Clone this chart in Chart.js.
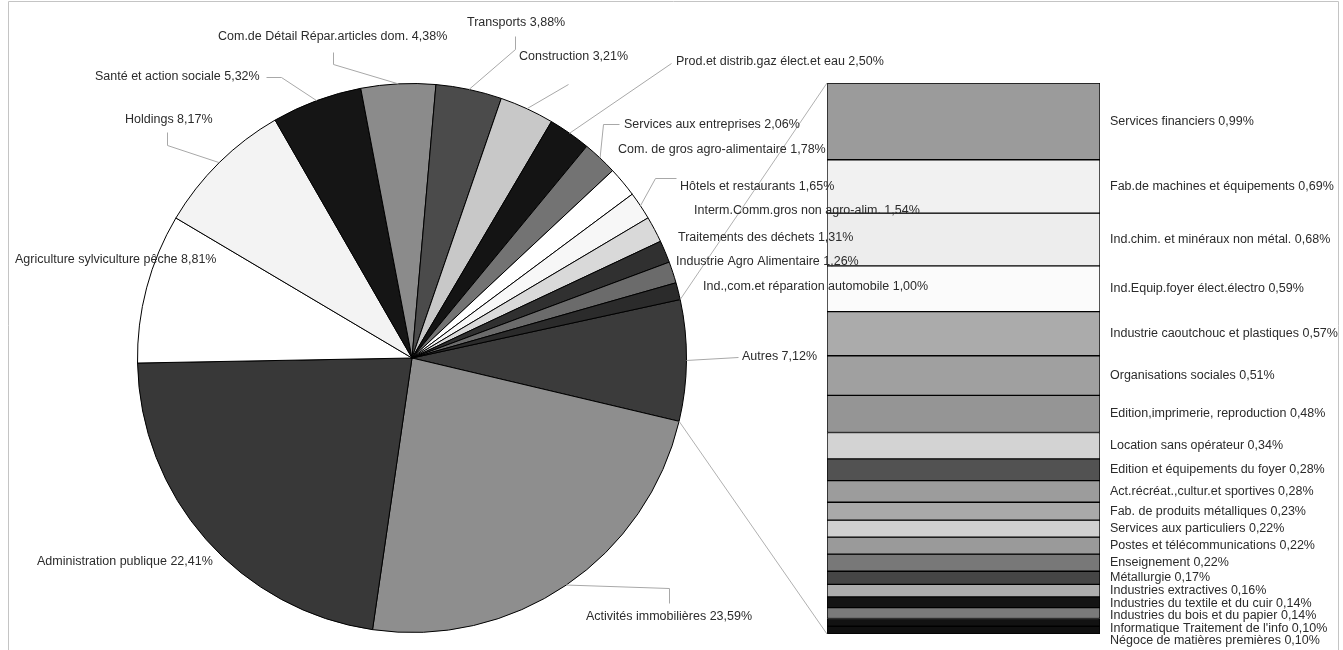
<!DOCTYPE html>
<html>
<head>
<meta charset="utf-8">
<script src="https://cdn.jsdelivr.net/npm/chart.js@4/dist/chart.umd.min.js"></script>
<style>
  html, body { margin: 0; padding: 0; background: #fff; }
  #wrap { position: relative; width: 1343px; height: 650px; overflow: hidden; }
  canvas { position: absolute; left: 0; top: 0; }
</style>
</head>
<body>
<div id="wrap">
  <canvas id="bar" width="1343" height="650"></canvas>
  <canvas id="pie" width="1343" height="650"></canvas>
</div>
<script>
// ---------- DATA ----------
const pieNames = [
  "Autres", "Activités immobilières", "Administration publique",
  "Agriculture sylviculture pêche", "Holdings", "Santé et action sociale",
  "Com.de Détail Répar.articles dom.", "Transports", "Construction",
  "Prod.et distrib.gaz élect.et eau", "Services aux entreprises",
  "Com. de gros agro-alimentaire", "Hôtels et restaurants",
  "Interm.Comm.gros non agro-alim.", "Traitements des déchets",
  "Industrie Agro Alimentaire", "Ind.,com.et réparation automobile"
];
const pieValues = [7.12, 23.59, 22.41, 8.81, 8.17, 5.32, 4.38, 3.88, 3.21, 2.50, 2.06, 1.78, 1.65, 1.54, 1.31, 1.26, 1.00];
const pieColors = ["#3b3b3b", "#8e8e8e", "#383838", "#ffffff", "#f3f3f3", "#151515", "#8b8b8b", "#4b4b4b",
  "#c8c8c8", "#141414", "#737373", "#ffffff", "#f7f7f7", "#d9d9d9", "#303030", "#6b6b6b", "#2b2b2b"];

const barNames = [
  "Services financiers", "Fab.de machines et équipements", "Ind.chim. et minéraux non métal.",
  "Ind.Equip.foyer élect.électro", "Industrie caoutchouc et plastiques", "Organisations sociales",
  "Edition,imprimerie, reproduction", "Location sans opérateur", "Edition et équipements du foyer",
  "Act.récréat.,cultur.et sportives", "Fab. de produits métalliques", "Services aux particuliers",
  "Postes et télécommunications", "Enseignement", "Métallurgie", "Industries extractives",
  "Industries du textile et du cuir", "Industries du bois et du papier",
  "Informatique Traitement de l'info", "Négoce de matières premières"
];
const barValues = [0.99, 0.69, 0.68, 0.59, 0.57, 0.51, 0.48, 0.34, 0.28, 0.28, 0.23, 0.22, 0.22, 0.22, 0.17, 0.16, 0.14, 0.14, 0.10, 0.10];
const barColors = ["#9b9b9b", "#f1f1f1", "#ededed", "#fbfbfb", "#ababab", "#a0a0a0", "#959595", "#d3d3d3",
  "#525252", "#9c9c9c", "#a9a9a9", "#d0d0d0", "#9a9a9a", "#787878", "#454545", "#adadad",
  "#141414", "#7a7a7a", "#121212", "#101010"];

// label layout (text anchor: left x, middle y) and leader elbows, per pie slice
const pieLabelPos = [
  [742, 357], [586, 617], [37, 562], [15, 260], [125, 120], [95, 77], [218, 37], [467, 23],
  [519, 57], [676, 62], [624, 125], [618, 150], [680, 187], [694, 211], [678, 238], [676, 262], [703, 287]
];
const pieLeaders = [
  [[738, 357]], [[669, 588], [669, 603]], null, null, [[167, 145], [167, 132]], [[281, 77], [266, 77]],
  [[333, 64], [333, 52]], [[515, 49], [515, 36]], [[568, 84]], [[671, 63]], [[603, 124], [619, 124]],
  null, [[655, 178], [676, 178]], null, null, null, null
];

const FONT = "12.5px 'Liberation Sans', Arial, sans-serif";
const TXT = "#2b2b2b";
const fmt = v => v.toFixed(2).replace('.', ',') + '%';

// ---------- BAR (stacked "Autres" breakdown) ----------
const barTotal = barValues.reduce((a, b) => a + b, 0);
const barLabelPlugin = {
  id: 'barLabels',
  afterDatasetsDraw(chart) {
    const ctx = chart.ctx;
    ctx.save();
    ctx.font = FONT;
    ctx.fillStyle = TXT;
    ctx.textBaseline = 'middle';
    ctx.textAlign = 'left';
    let prev = -Infinity;
    chart.data.datasets.forEach((ds, i) => {
      const el = chart.getDatasetMeta(i).data[0];
      const mid = (el.y + el.base) / 2;
      const y = Math.max(mid, prev + 12.5);
      prev = y;
      ctx.fillText(barNames[i] + ' ' + fmt(barValues[i]), el.x + el.width / 2 + 10, y);
    });
    ctx.restore();
  }
};
const barChart = new Chart(document.getElementById('bar'), {
  type: 'bar',
  data: {
    labels: [''],
    datasets: barNames.map((n, i) => ({
      label: n, data: [barValues[i]], backgroundColor: barColors[i],
      borderColor: '#000', borderWidth: 1, borderSkipped: false,
      barPercentage: 1, categoryPercentage: 1
    }))
  },
  options: {
    responsive: false, animation: false, devicePixelRatio: 1,
    layout: { padding: { left: 827, right: 243, top: 83, bottom: 16 } },
    scales: {
      x: { display: false, stacked: true },
      y: { display: false, stacked: true, reverse: true, min: 0, max: barTotal }
    },
    plugins: { legend: { display: false }, tooltip: { enabled: false } }
  },
  plugins: [barLabelPlugin]
});

// ---------- PIE ----------
const pieLabelPlugin = {
  id: 'pieLabels',
  beforeDraw(chart) {
    const ctx = chart.ctx;
    ctx.save();
    ctx.strokeStyle = '#c4c4c4';
    ctx.lineWidth = 1;
    ctx.beginPath();
    ctx.moveTo(8.5, 650); ctx.lineTo(8.5, 1.5); ctx.lineTo(1338.5, 1.5); ctx.lineTo(1338.5, 650);
    ctx.stroke();
    ctx.restore();
  },
  afterDatasetsDraw(chart) {
    const ctx = chart.ctx;
    const arcs = chart.getDatasetMeta(0).data;
    ctx.save();
    // leader lines
    ctx.strokeStyle = '#a8a8a8';
    ctx.lineWidth = 1;
    arcs.forEach((a, i) => {
      const pts = pieLeaders[i];
      if (!pts) return;
      const m = (a.startAngle + a.endAngle) / 2;
      ctx.beginPath();
      ctx.moveTo(a.x + Math.cos(m) * a.outerRadius, a.y + Math.sin(m) * a.outerRadius);
      pts.forEach(p => ctx.lineTo(p[0] + 0.5, p[1] + 0.5));
      ctx.stroke();
    });
    // series lines from "Autres" slice to the bar
    const au = arcs[0];
    const bTop = barChart.getDatasetMeta(0).data[0];
    const bBot = barChart.getDatasetMeta(barValues.length - 1).data[0];
    ctx.strokeStyle = '#b0b0b0';
    ctx.beginPath();
    ctx.moveTo(au.x + Math.cos(au.startAngle) * au.outerRadius, au.y + Math.sin(au.startAngle) * au.outerRadius);
    ctx.lineTo(bTop.x - bTop.width / 2, Math.min(bTop.y, bTop.base));
    ctx.moveTo(au.x + Math.cos(au.endAngle) * au.outerRadius, au.y + Math.sin(au.endAngle) * au.outerRadius);
    ctx.lineTo(bBot.x - bBot.width / 2, Math.max(bBot.y, bBot.base));
    ctx.stroke();
    // labels
    ctx.font = FONT;
    ctx.fillStyle = TXT;
    ctx.textBaseline = 'middle';
    ctx.textAlign = 'left';
    pieNames.forEach((n, i) => {
      const p = pieLabelPos[i];
      ctx.fillText(n + ' ' + fmt(pieValues[i]), p[0], p[1]);
    });
    ctx.restore();
  }
};
const pieChart = new Chart(document.getElementById('pie'), {
  type: 'pie',
  data: {
    labels: pieNames,
    datasets: [{
      data: pieValues, backgroundColor: pieColors,
      borderColor: '#000', borderWidth: 1, hoverOffset: 0, borderAlign: 'center'
    }]
  },
  options: {
    responsive: false, animation: false, devicePixelRatio: 1,
    rotation: 77.7,
    layout: { padding: { left: 137, right: 656, top: 83, bottom: 17 } },
    plugins: { legend: { display: false }, tooltip: { enabled: false } }
  },
  plugins: [pieLabelPlugin]
});
</script>
</body>
</html>
